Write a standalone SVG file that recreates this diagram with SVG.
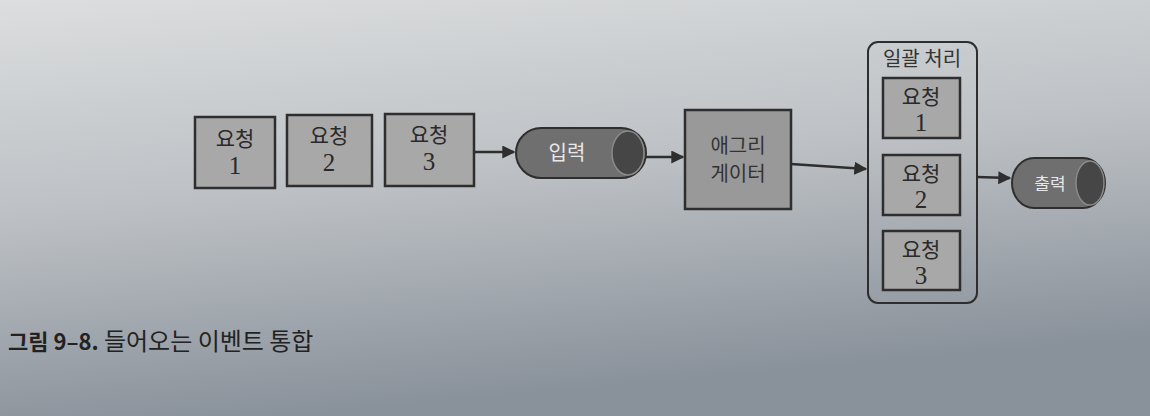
<svg xmlns="http://www.w3.org/2000/svg" width="1150" height="416" viewBox="0 0 1150 416">
<defs>
<linearGradient id="bg" x1="0" y1="0" x2="0.25" y2="1">
<stop offset="0" stop-color="#dcdedf"/>
<stop offset="0.5" stop-color="#bcc0c4"/>
<stop offset="1" stop-color="#89919a"/>
</linearGradient>
<marker id="arrL" viewBox="0 0 10 10" refX="9" refY="5" markerWidth="13" markerHeight="13" markerUnits="userSpaceOnUse" orient="auto">
<path d="M0,0 L10,5 L0,10 z" fill="#2e2e2e"/>
</marker>
</defs>
<style>
.box{fill:#a8a8a8;stroke:#2e2e2e;stroke-width:2.5}
.agg{fill:#999;stroke:#2e2e2e;stroke-width:2.5}
.grp{fill:none;stroke:#2e2e2e;stroke-width:2}
.cyl{fill:#6f6f6f;stroke:#2e2e2e;stroke-width:2}
.cap{fill:#464646;stroke:#8a8a8a;stroke-width:1.5}
.t{font-family:"Noto Sans CJK KR",sans-serif;font-size:21px;fill:#2a2a2a;text-anchor:middle}
.n{font-family:"Liberation Serif",serif;font-size:25px;fill:#2a2a2a;text-anchor:middle}
.tw{font-family:"Noto Sans CJK KR",sans-serif;font-size:20px;fill:#e8e8e8;text-anchor:middle}
.ta{font-family:"Noto Sans CJK KR",sans-serif;font-size:20px;fill:#333;text-anchor:middle}
.conn{stroke:#2e2e2e;stroke-width:2.5;fill:none}
.caption{font-family:"Noto Sans CJK KR",sans-serif;font-size:24px;fill:#222}
</style>
<rect width="1150" height="416" fill="url(#bg)"/>
<g id="req1"><rect class="box" x="195" y="117" width="80" height="71"/><text class="t" x="235" y="146">요청</text><text class="n" x="235" y="174">1</text></g>
<g id="req2"><rect class="box" x="287" y="115" width="85" height="71"/><text class="t" x="329" y="143">요청</text><text class="n" x="329" y="171">2</text></g>
<g id="req3"><rect class="box" x="385" y="114" width="89" height="72"/><text class="t" x="429" y="142">요청</text><text class="n" x="429" y="170">3</text></g>
<g id="input">
<rect class="cyl" x="516" y="128" width="130" height="50" rx="25" ry="25"/>
<ellipse class="cap" cx="628" cy="153" rx="16" ry="22"/>
<text class="tw" x="567" y="160">입력</text>
</g>
<g id="aggregator"><rect class="agg" x="685" y="110" width="106" height="99"/><text class="ta" x="738" y="153">애그리</text><text class="ta" x="738" y="181">게이터</text></g>
<g id="batch">
<rect class="grp" x="868" y="42" width="109" height="261" rx="10" ry="10"/>
<text class="ta" x="922" y="66">일괄 처리</text>
<g id="b1"><rect class="box" x="883" y="78" width="77" height="60"/><text class="t" x="921" y="104">요청</text><text class="n" x="921" y="131">1</text></g>
<g id="b2"><rect class="box" x="883" y="155" width="77" height="60"/><text class="t" x="921" y="181">요청</text><text class="n" x="921" y="208">2</text></g>
<g id="b3"><rect class="box" x="883" y="231" width="77" height="59"/><text class="t" x="921" y="257">요청</text><text class="n" x="921" y="284">3</text></g>
</g>
<g id="output">
<rect class="cyl" x="1012" y="158" width="93" height="50" rx="22" ry="25"/>
<ellipse class="cap" cx="1090" cy="183" rx="14" ry="22"/>
<text class="tw" x="1050" y="190" style="font-size:17px">출력</text>
</g>
<g id="connectors">
<line class="conn" x1="474" y1="152" x2="514" y2="152" marker-end="url(#arrL)"/>
<line class="conn" x1="646" y1="157" x2="683" y2="157" marker-end="url(#arrL)"/>
<line class="conn" x1="791" y1="164" x2="866" y2="169" marker-end="url(#arrL)"/>
<line class="conn" x1="977" y1="177" x2="1010" y2="178" marker-end="url(#arrL)"/>
</g>
<text class="caption" x="8" y="350"><tspan font-weight="bold" font-size="22">그림 9–8.</tspan> 들어오는 이벤트 통합</text>
</svg>
